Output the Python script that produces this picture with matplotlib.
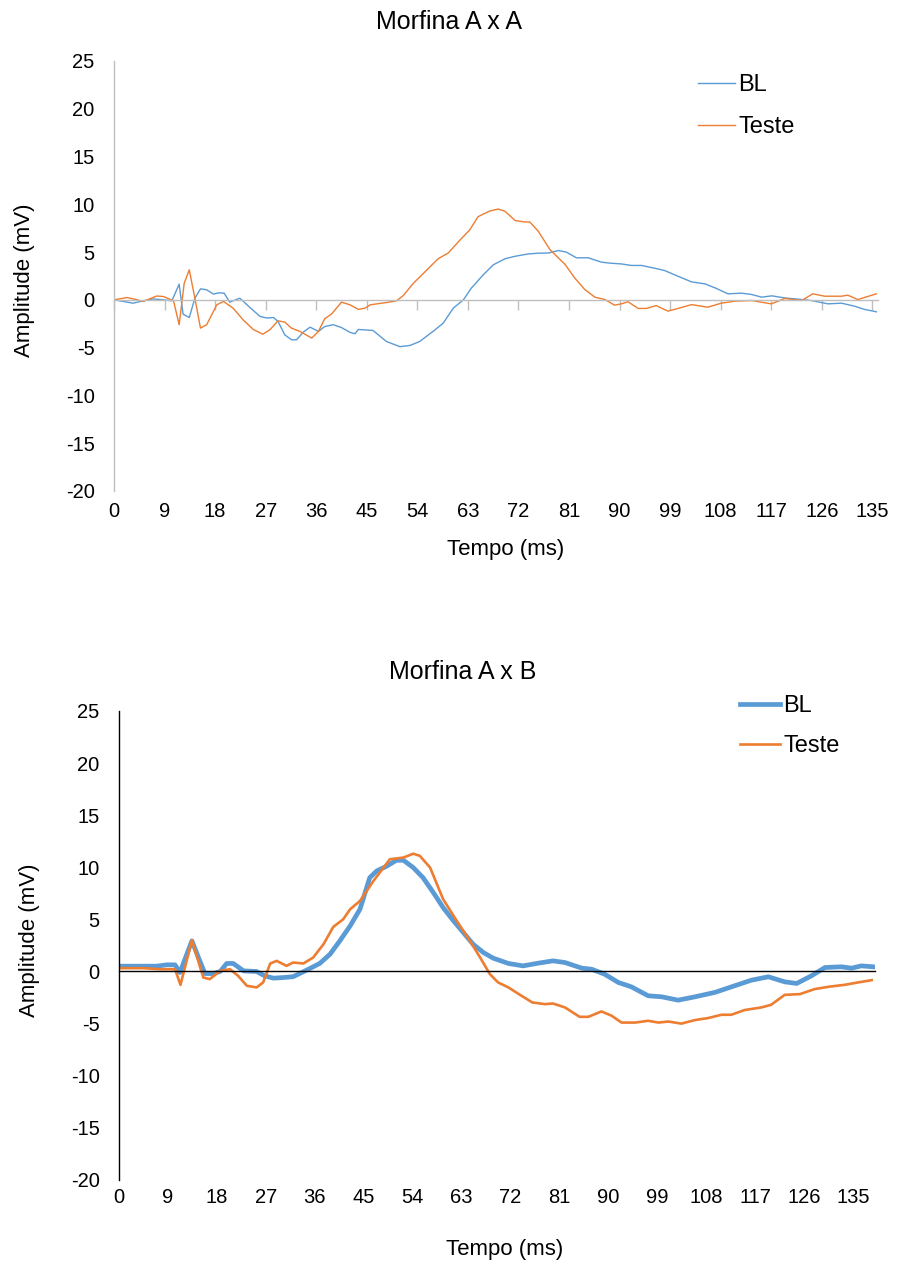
import matplotlib
matplotlib.use("Agg")
import matplotlib.pyplot as plt

plt.rcParams['font.family'] = ['Liberation Sans', 'DejaVu Sans']
plt.rcParams['axes.unicode_minus'] = False

# ---- Morfina A x A ----
aa_bl_t = [0, 1.7, 3.4, 5.2, 7, 8.8, 10.3, 11.6, 12.3, 13.4, 14.4, 15.4, 16.5, 17.7, 18.6, 19.6,
           20.6, 22.4, 24.2, 26, 27.2, 28.4, 29.2, 30.4, 31.6, 32.5, 33.7, 34.9, 36.4, 37.5, 39,
           40.5, 42, 42.9, 43.5, 46.1, 48.5, 50.9, 52.7, 54.4, 56.8, 58.6, 60.4, 62.2, 63.6, 65.7,
           67.5, 69.6, 71.4, 73.7, 75.5, 77.3, 79.1, 80.5, 82.3, 84.4, 86.8, 88.5, 90.3, 92.1,
           93.9, 96.3, 98, 100.4, 102.8, 105.2, 107, 109.3, 111.7, 113.5, 115.3, 117.1, 119.4,
           121.8, 124.1, 127.1, 129.5, 131.8, 133.6, 135.7]
aa_bl_v = [0, -0.17, -0.35, -0.1, 0.1, 0, -0.1, 1.64, -1.5, -1.85, 0.17, 1.15, 1.05, 0.6, 0.73, 0.7,
           -0.24, 0.17, -0.8, -1.74, -1.9, -1.85, -2.26, -3.66, -4.18, -4.18, -3.38, -2.86, -3.3,
           -2.8, -2.6, -2.9, -3.4, -3.55, -3.1, -3.2, -4.36, -4.9, -4.77, -4.36, -3.3, -2.44, -0.87,
           0, 1.22, 2.6, 3.66, 4.3, 4.56, 4.8, 4.88, 4.9, 5.16, 5.0, 4.4, 4.4, 3.94, 3.83, 3.76,
           3.6, 3.6, 3.3, 3.07, 2.47, 1.88, 1.67, 1.25, 0.63, 0.7, 0.56, 0.28, 0.42, 0.2, 0.07,
           -0.07, -0.42, -0.35, -0.66, -1.0, -1.25]

aa_te_t = [0, 2.3, 4, 5.2, 7.6, 8.8, 10.6, 11.6, 12.5, 13.4, 14.4, 15.4, 16.5, 18.3, 19.5, 21.2,
           23, 24.8, 26.5, 27.8, 29.2, 30.4, 31.6, 33.1, 35.2, 36.4, 37.5, 38.7, 40.5, 42, 43.5,
           44.7, 45.6, 48.5, 50.3, 51.5, 53.3, 55.3, 57.7, 59.5, 61.6, 63.3, 64.8, 66.9, 68.4,
           69.6, 71.4, 73.1, 74, 75.5, 77.6, 80.3, 82, 83.8, 85.6, 87.4, 89.1, 90.3, 91.5, 93.3,
           94.8, 96.5, 98.6, 100.4, 102.8, 105.7, 108.1, 110.5, 113.5, 117, 119.4, 122.4, 124.4,
           126.5, 129.5, 130.6, 132.4, 135.7]
aa_te_v = [0, 0.24, 0.03, -0.17, 0.4, 0.35, -0.1, -2.6, 1.74, 3.14, 0.17, -2.96, -2.6, -0.52,
           -0.17, -0.87, -2.1, -3.1, -3.6, -3.1, -2.2, -2.33, -2.96, -3.3, -4.0, -3.3, -1.98, -1.5,
           -0.24, -0.52, -1.0, -0.87, -0.52, -0.28, -0.1, 0.45, 1.74, 2.9, 4.3, 4.9, 6.27, 7.3,
           8.7, 9.3, 9.5, 9.27, 8.3, 8.15, 8.15, 7.2, 5.26, 3.7, 2.3, 1.08, 0.28, 0.03, -0.56,
           -0.42, -0.2, -0.9, -0.9, -0.6, -1.18, -0.9, -0.5, -0.77, -0.35, -0.14, -0.07, -0.42,
           0.14, -0.07, 0.63, 0.38, 0.38, 0.49, 0.03, 0.63]

# ---- Morfina A x B ----
ab_bl_t = [0, 3.2, 6.9, 8.8, 10.3, 11.2, 13.4, 14.6, 15.8, 17.3, 18.6, 19.8, 21, 22.9, 25.3,
           26.8, 28.4, 30.2, 32, 33.6, 35.1, 36.9, 38.8, 40.6, 42.5, 44.3, 46.1, 47.4, 49.2, 51,
           52.3, 54.1, 55.9, 57.8, 59.6, 61.5, 63.3, 65.1, 67, 68.8, 71.6, 74.3, 77.1, 79.8, 82,
           85.1, 86.9, 89.3, 91.8, 94.2, 97.3, 99.8, 102.8, 105.9, 109.6, 113.2, 116.3, 119.4,
           122.4, 124.6, 127.3, 129.8, 132.8, 134.7, 136.5, 138.7]
ab_bl_v = [0.51, 0.51, 0.51, 0.64, 0.64, -0.1, 2.94, 1.34, -0.2, -0.2, 0, 0.77, 0.77, 0.06, 0,
           -0.42, -0.64, -0.58, -0.5, -0.1, 0.29, 0.77, 1.66, 2.94, 4.38, 5.97, 9.0, 9.65, 10.1,
           10.67, 10.67, 9.97, 9.0, 7.57, 6.13, 4.86, 3.74, 2.62, 1.82, 1.28, 0.77, 0.54, 0.8,
           1.02, 0.86, 0.32, 0.22, -0.26, -1.05, -1.47, -2.33, -2.43, -2.75, -2.43, -2.0, -1.37,
           -0.83, -0.51, -0.99, -1.15, -0.42, 0.38, 0.45, 0.32, 0.54, 0.45]

ab_te_t = [0, 4.5, 7.5, 10.3, 11.3, 13.4, 15.5, 16.7, 18.6, 20.4, 21.9, 23.5, 25.3, 26.5, 27.8,
           29, 30.8, 32, 33.9, 35.7, 37.6, 39.4, 41.2, 42.5, 44.3, 46.8, 49.8, 52.3, 54.1, 55.3,
           57.2, 59.6, 62.1, 64.5, 66.4, 68.2, 69.7, 71.6, 74, 76, 78.3, 79.8, 82, 84.7, 86.3,
           88.7, 90.6, 92.4, 94.9, 97.3, 99.2, 101, 103.4, 105.9, 108.3, 110.8, 112.6, 115,
           118.1, 119.9, 122.4, 125.2, 127.9, 130.4, 133.4, 135.9, 138.4]
ab_te_v = [0.32, 0.32, 0.22, 0.22, -1.28, 3.0, -0.58, -0.73, 0.06, 0.22, -0.42, -1.37, -1.53,
           -1.05, 0.77, 1.02, 0.54, 0.86, 0.77, 1.34, 2.62, 4.28, 5.0, 5.97, 6.77, 8.7, 10.77,
           10.93, 11.3, 11.1, 9.97, 6.93, 4.86, 2.94, 1.34, -0.26, -1.05, -1.53, -2.33, -2.97,
           -3.13, -3.07, -3.45, -4.35, -4.35, -3.83, -4.25, -4.9, -4.9, -4.73, -4.9, -4.8, -5.0,
           -4.66, -4.47, -4.15, -4.15, -3.7, -3.45, -3.2, -2.24, -2.17, -1.69, -1.47, -1.28,
           -1.05, -0.83]

xticks = list(range(0, 136, 9))
yticks = list(range(-20, 26, 5))

blue = '#5B9BD5'
orange = '#ED7D31'

fig = plt.figure(figsize=(9.01, 12.67), dpi=100)
ax1 = fig.add_axes([0.1265, 0.6125, 0.848, 0.3394])
ax2 = fig.add_axes([0.1321, 0.0687, 0.839, 0.3702])


def setup(ax, xmax, axis_color, tick_len, lab_pad):
    ax.set_xlim(0, xmax)
    ax.set_ylim(-20, 25)
    ax.set_yticks(yticks)
    for s in ['top', 'right']:
        ax.spines[s].set_visible(False)
    ax.spines['bottom'].set_position(('data', 0))
    ax.spines['bottom'].set_color(axis_color)
    ax.spines['left'].set_color(axis_color)
    ax.spines['bottom'].set_linewidth(1.0)
    ax.spines['left'].set_linewidth(1.0)
    ax.set_xticks(xticks)
    ax.tick_params(axis='x', length=tick_len, width=1.0, color=axis_color,
                   labelbottom=False)
    ax.tick_params(axis='y', length=0, pad=14, labelsize=14.5)
    # category labels sit under the plot, not on the zero line
    sec = ax.secondary_xaxis('bottom')
    sec.set_xticks(xticks)
    sec.spines['bottom'].set_visible(False)
    sec.tick_params(length=0, pad=lab_pad, labelsize=14.5)
    return sec


setup(ax1, 136, '#BFBFBF', 7, 8)
setup(ax2, 139, 'black', 0, 6)

ax1.plot(aa_bl_t, aa_bl_v, color=blue, lw=1.0, label='BL')
ax1.plot(aa_te_t, aa_te_v, color=orange, lw=1.0, label='Teste')

ax2.plot(ab_bl_t, ab_bl_v, color=blue, lw=3.4, label='BL')
ax2.plot(ab_te_t, ab_te_v, color=orange, lw=1.9, label='Teste')

fig.text(0.498, 0.9826, 'Morfina A x A', ha='center', va='center', fontsize=18)
fig.text(0.513, 0.4696, 'Morfina A x B', ha='center', va='center', fontsize=18)

for ax, lx, ly, ylx, yly in [(ax1, 0.513, -0.137, -0.1165, 0.49),
                             (ax2, 0.51, -0.149, -0.118, 0.512)]:
    ax.text(lx, ly, 'Tempo (ms)', transform=ax.transAxes, ha='center', va='center',
            fontsize=16)
    ax.set_ylabel('Amplitude (mV)', fontsize=16, va='center', ha='center')
    ax.yaxis.set_label_coords(ylx, yly)

ax1.legend(loc='upper left', bbox_to_anchor=(0.7747, 0.9416), bbox_transform=fig.transFigure,
           frameon=False, fontsize=17, handlelength=1.57, handletextpad=0.13,
           labelspacing=0.85, borderpad=0, borderaxespad=0)
ax2.legend(loc='upper left', bbox_to_anchor=(0.8213, 0.4514), bbox_transform=fig.transFigure,
           frameon=False, fontsize=17, handlelength=1.7, handletextpad=0.13,
           labelspacing=0.75, borderpad=0, borderaxespad=0)

fig.savefig('out.png', dpi=100)
